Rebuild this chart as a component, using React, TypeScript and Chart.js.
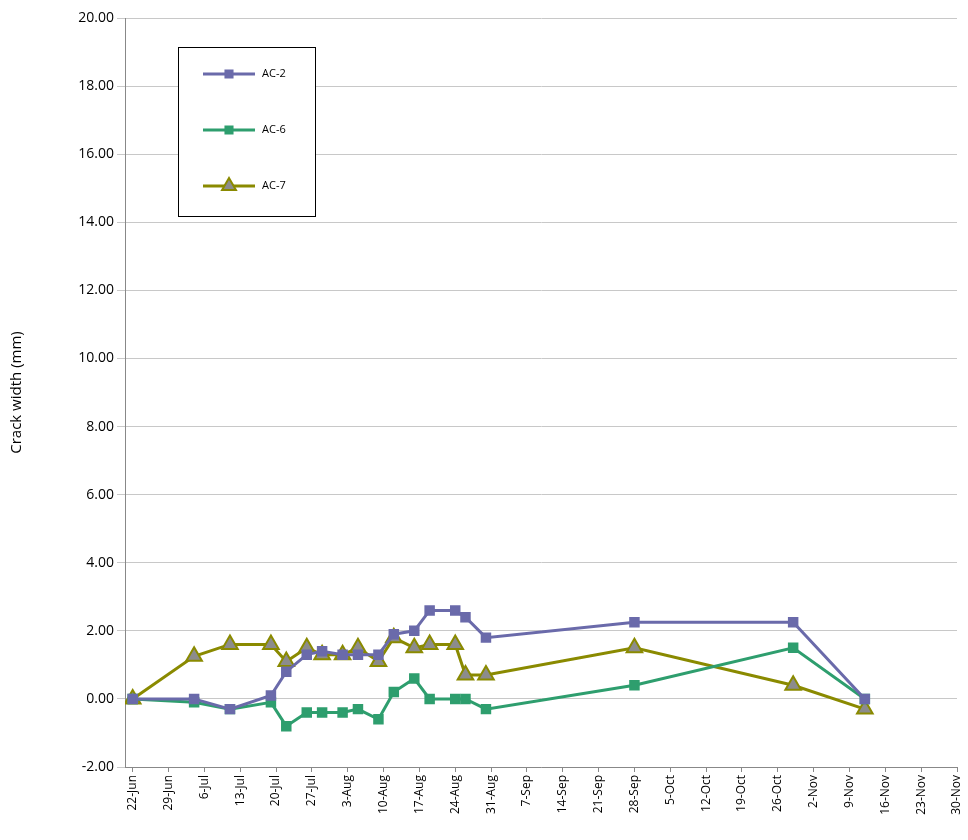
import { useEffect, useRef } from "react";
import { Chart, registerables } from "chart.js";
import { drawPoint } from "chart.js/helpers";

Chart.register(...registerables);

// days since 22-Jun
const days = [0, 12, 19, 27, 30, 34, 37, 41, 44, 48, 51, 55, 58, 63, 65, 69, 98, 129, 143];
const ac2 = [0, 0, -0.3, 0.1, 0.8, 1.3, 1.4, 1.3, 1.3, 1.3, 1.9, 2.0, 2.6, 2.6, 2.4, 1.8, 2.25, 2.25, 0];
const ac6 = [0, -0.1, -0.3, -0.1, -0.8, -0.4, -0.4, -0.4, -0.3, -0.6, 0.2, 0.6, 0, 0, 0, -0.3, 0.4, 1.5, 0];
const ac7 = [0, 1.25, 1.6, 1.6, 1.1, 1.5, 1.3, 1.3, 1.5, 1.1, 1.8, 1.5, 1.6, 1.6, 0.7, 0.7, 1.5, 0.4, -0.3];
const tickLabels = [
  "22-Jun", "29-Jun", "6-Jul", "13-Jul", "20-Jul", "27-Jul", "3-Aug", "10-Aug", "17-Aug", "24-Aug",
  "31-Aug", "7-Sep", "14-Sep", "21-Sep", "28-Sep", "5-Oct", "12-Oct", "19-Oct", "26-Oct", "2-Nov",
  "9-Nov", "16-Nov", "23-Nov", "30-Nov",
];

const FONT = "'Open Sans', 'Liberation Sans', sans-serif";

const series = [
  { label: "AC-2", data: ac2, color: "#6a6aaa", fill: "#6a6aaa", style: "rect", radius: 6 },
  { label: "AC-6", data: ac6, color: "#2e9e6e", fill: "#2e9e6e", style: "rect", radius: 6 },
  { label: "AC-7", data: ac7, color: "#8a8a00", fill: "#8c8c8c", style: "triangle", radius: 9 },
];

const legendBox = {
  id: "legendBox",
  afterDraw(chart: Chart) {
    const ctx = chart.ctx;
    ctx.save();
    ctx.fillStyle = "#fff";
    ctx.strokeStyle = "#000";
    ctx.lineWidth = 1;
    ctx.fillRect(178.5, 47.5, 137, 169);
    ctx.strokeRect(178.5, 47.5, 137, 169);
    series.forEach((s, i) => {
      const y = 74 + i * 56;
      ctx.strokeStyle = s.color;
      ctx.lineWidth = 3;
      ctx.beginPath();
      ctx.moveTo(203, y);
      ctx.lineTo(255, y);
      ctx.stroke();
      ctx.fillStyle = s.fill;
      ctx.strokeStyle = s.color;
      ctx.lineWidth = 2;
      drawPoint(ctx, { pointStyle: s.style as any, radius: s.radius - 1, rotation: 0, borderWidth: 2 }, 229, y);
      ctx.fillStyle = "#000";
      ctx.font = `11px ${FONT}`;
      ctx.textBaseline = "middle";
      ctx.fillText(s.label, 262, y);
    });
    ctx.restore();
  },
};

export default function App() {
  const ref = useRef<HTMLCanvasElement>(null);
  useEffect(() => {
    document.body.style.margin = "0";
    if (!ref.current) return;
    const chart = new Chart(ref.current, {
      type: "line",
      data: {
        datasets: series.map((s) => ({
          label: s.label,
          data: s.data.map((v, i) => ({ x: days[i], y: v })),
          borderColor: s.color,
          borderWidth: 3,
          pointStyle: s.style as any,
          pointRadius: s.radius,
          pointBackgroundColor: s.fill,
          pointBorderColor: s.color,
          pointBorderWidth: 2,
          tension: 0,
        })),
      },
      options: {
        animation: false,
        responsive: false,
        layout: { padding: { top: 18, right: 2, left: 0, bottom: 0 } },
        plugins: { legend: { display: false }, tooltip: { enabled: false } },
        scales: {
          x: {
            type: "linear",
            min: -1.5,
            max: 161,
            afterBuildTicks: (axis: any) => {
              axis.ticks = tickLabels.map((_, i) => ({ value: i * 7 }));
            },
            afterFit: (axis: any) => {
              axis.height = 73;
              axis.paddingLeft = 0;
              axis.paddingRight = 0;
            },
            ticks: {
              autoSkip: false,
              maxRotation: 90,
              minRotation: 90,
              color: "#000",
              font: { family: FONT, size: 12 },
              callback: (v: any) => tickLabels[Math.round(Number(v) / 7)],
            },
            grid: { display: true, drawOnChartArea: false, tickLength: 5, color: "#888" },
            border: { color: "#888" },
          },
          y: {
            min: -2,
            max: 20,
            afterFit: (axis: any) => {
              axis.width = 125;
              axis.paddingTop = 0;
              axis.paddingBottom = 0;
            },
            ticks: {
              stepSize: 2,
              color: "#000",
              font: { family: FONT, size: 14 },
              callback: (v: any) => Number(v).toFixed(2),
            },
            title: { display: true, text: "Crack width (mm)", color: "#000", font: { family: FONT, size: 15 }, padding: { top: 8, bottom: 10 } },
            grid: { color: "#c8c8c8", tickLength: 8 },
            border: { color: "#888" },
          },
        },
      },
      plugins: [legendBox],
    });
    return () => chart.destroy();
  }, []);
  return <canvas ref={ref} width={968} height={840} style={{ display: "block" }} />;
}
